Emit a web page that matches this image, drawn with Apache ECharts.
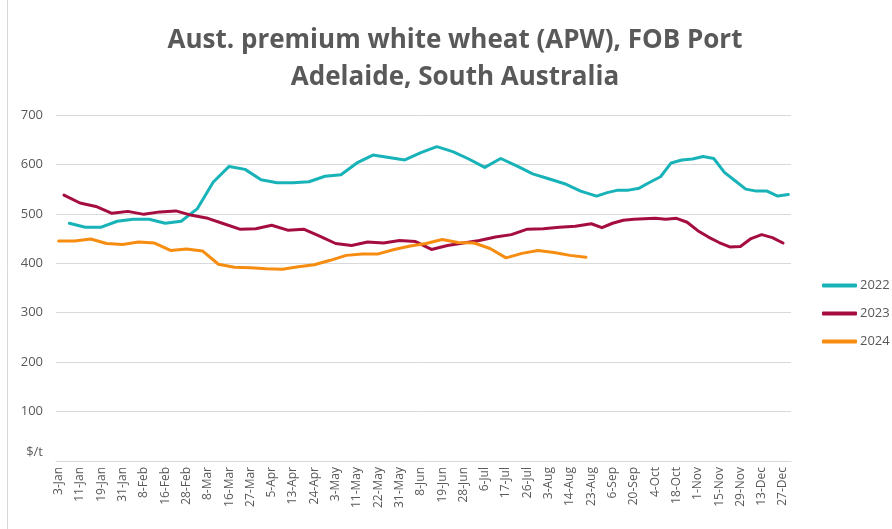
<!DOCTYPE html>
<html>
<head>
<meta charset="utf-8">
<title>APW FOB Port Adelaide</title>
<script src="https://cdn.jsdelivr.net/npm/echarts@6/dist/echarts.min.js"></script>
<style>
  html, body { margin: 0; padding: 0; background: #fff; }
  #chart { width: 892px; height: 529px; }
</style>
</head>
<body>
<div id="chart"></div>
<script>
// weekly (Wednesday) prices, $/t, first date of each year below
const weekStart = { '2022': '2022-01-05', '2023': '2023-01-04', '2024': '2024-01-03' }

const values2022 = [
  481, 473, 473, 485, 489, 489, 481, 485, 510, 564, 596, 590, 569,
  563, 563, 565, 576, 579, 603, 619, 614, 609, 624, 636, 626, 611,
  594, 612, 597, 581, 571, 561, 546, 536, 543, 548, 548, 552, 564,
  575, 603, 609, 611, 616, 612, 584, 567, 550, 546, 546, 536, 539
]
const values2023 = [
  538, 522, 515, 501, 505, 499, 504, 506, 497, 491, 480, 469, 470,
  477, 467, 469, 455, 440, 436, 443, 441, 446, 444, 428, 436, 441,
  446, 453, 458, 469, 470, 473, 475, 480, 472, 481, 487, 489, 490,
  491, 489, 491, 483, 466, 453, 442, 433, 434, 450, 458, 452, 441
]
const values2024 = [
  445, 445, 449, 440, 438, 443, 441, 426, 429, 425, 398, 392, 391,
  389, 388, 393, 397, 406, 416, 419, 419, 428, 435, 440, 448, 442,
  441, 430, 411, 420, 426, 422, 416, 412
]

const years = ['2022', '2023', '2024']
const colors = ['#18B3B8', '#A50D3F', '#F68C10']
const yTicks = [0, 100, 200, 300, 400, 500, 600, 700]
const monthNames = ['Jan', 'Feb', 'Mar', 'Apr', 'May', 'Jun', 'Jul', 'Aug', 'Sep', 'Oct', 'Nov', 'Dec']

// merge the three years on day-of-year, like the source sheet does
const rows = []
const byYear = { '2022': values2022, '2023': values2023, '2024': values2024 }
years.forEach(function(y) {
  const t0 = Date.parse(weekStart[y] + 'T00:00:00Z')
  byYear[y].forEach(function(v, i) {
    const d = new Date(t0 + i * 7 * 86400000)
    rows.push({ year: y, key: d.getUTCMonth() * 100 + d.getUTCDate(), m: d.getUTCMonth(), d: d.getUTCDate(), v: v })
  })
})
rows.sort(function(a, b) { return a.key - b.key })

const categories = rows.map(function(r) { return r.d + '-' + monthNames[r.m] })
const seriesData = years.map(function(y) {
  return rows.map(function(r) { return r.year === y ? r.v : null })
})

const chart = echarts.init(document.getElementById('chart'))
chart.setOption({
  animation: false,
  color: colors,
  textStyle: { fontFamily: '"Open Sans", sans-serif' },
  title: {
    text: 'Aust. premium white wheat (APW), FOB Port\nAdelaide, South Australia',
    left: 450,
    textAlign: 'center',
    top: 17,
    textStyle: {
      color: '#595959',
      fontSize: 26,
      fontWeight: 'bold',
      lineHeight: 37,
      fontFamily: '"Open Sans", sans-serif'
    }
  },
  legend: {
    orient: 'vertical',
    left: 817,
    top: 274,
    itemWidth: 35,
    itemHeight: 4,
    itemGap: 15,
    icon: 'roundRect',
    data: years,
    textStyle: { color: '#595959', fontSize: 13, padding: [0, 0, 0, -2] }
  },
  grid: {
    left: 56,
    right: 101,
    top: 115,
    bottom: 68
  },
  xAxis: {
    type: 'category',
    data: categories,
    boundaryGap: true,
    axisLine: { lineStyle: { color: '#d9d9d9', width: 1 } },
    axisTick: { show: false },
    axisLabel: {
      interval: 3,
      rotate: 90,
      margin: 6,
      color: '#595959',
      fontSize: 12
    }
  },
  yAxis: {
    type: 'value',
    min: yTicks[0],
    max: yTicks[yTicks.length - 1],
    interval: 100,
    axisLine: { show: false },
    axisTick: { show: false },
    splitLine: { lineStyle: { color: '#d9d9d9', width: 1 } },
    axisLabel: {
      margin: 13,
      color: '#595959',
      fontSize: 13,
      formatter: function(v) {
        return v === 0 ? '{u|$/t}' : String(v)
      },
      rich: {
        u: { color: '#595959', fontSize: 13, padding: [0, 0, 18, 0] }
      }
    }
  },
  series: years.map(function(y, i) {
    return {
      name: y,
      type: 'line',
      data: seriesData[i],
      connectNulls: true,
      symbol: 'none',
      lineStyle: { width: 3, cap: 'round', join: 'round' }
    }
  }),
  graphic: [{
    type: 'line',
    shape: { x1: 7.5, y1: 0, x2: 7.5, y2: 529 },
    style: { stroke: '#d9d9d9', lineWidth: 1 }
  }]
})
</script>
</body>
</html>
